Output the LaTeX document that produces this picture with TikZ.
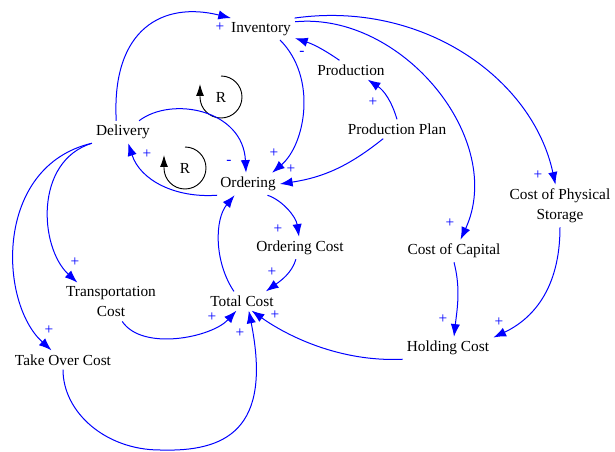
\documentclass[tikz,border=0pt]{standalone}
\usepackage{fontspec}
\setmainfont{Liberation Serif}
\newfontfamily\cldfont{Liberation Serif}
\usetikzlibrary{arrows.meta}

\begin{document}
\begin{tikzpicture}[x=0.75pt,y=0.75pt,>={Latex[length=9.5pt,width=7pt]},
  var/.style={inner sep=3pt,align=center,font=\cldfont\fontsize{11.5}{15}\selectfont},
  link/.style={->,blue,line width=0.75pt},
  pol/.style={blue,inner sep=0pt,font=\cldfont\fontsize{11.5}{13}\selectfont},
  loopmark/.style={-{Latex[length=9pt,width=6pt]},black,line width=0.7pt}]
  \useasboundingbox (0,0) rectangle (615,-452);
  % variables
  \node[var] (inv) at (261,-29) {Inventory};
  \node[var] (prod) at (351,-70) {Production};
  \node[var] (plan) at (397,-129) {Production Plan};
  \node[var] (deliv) at (123,-132) {Delivery};
  \node[var] (ord) at (248,-184) {Ordering};
  \node[var] (ocost) at (300,-248) {Ordering Cost};
  \node[var] (total) at (242,-301) {Total Cost};
  \node[var] (trans) at (111,-302) {Transportation\\Cost};
  \node[var] (takeover) at (63,-360) {Take Over Cost};
  \node[var] (capital) at (454,-251) {Cost of Capital};
  \node[var] (storage) at (560,-206) {Cost of Physical\\Storage};
  \node[var] (holding) at (448,-348) {Holding Cost};
  \coordinate (tcbottom) at (160,-450);
  % loops
  \node[var] (r1) at (221,-97) {R};
  \node[var] (r2) at (185,-168) {R};
  \draw[loopmark] ([shift={(90:21)}]r1.center) arc[start angle=90,end angle=-180,radius=21] -- ++(0,13);
  \draw[loopmark] ([shift={(90:21)}]r2.center) arc[start angle=90,end angle=-180,radius=21] -- ++(0,13);
  % links
  \draw[link] (deliv.121) .. controls +(-5,92) and +(-68,17) .. (inv.160);
  \draw[link] (inv.-30) .. controls +(38,-38) and +(33,28) .. (ord.25);
  \draw[link] (prod.140) to[bend right=8] (inv.-15);
  \draw[link] (plan.north) to[bend right=20] (prod.-30);
  \draw[link] (plan.-145) to[bend left=15] (ord.east);
  \draw[link] (ord.-160) .. controls +(-42,-3) and +(12,-37) .. (deliv.-65);
  \draw[link] (deliv.35) .. controls +(33,25) and +(-3,63) .. (ord.100);
  \draw[link] (inv.12) .. controls +(107,10) and +(46,100) .. (capital.60);
  \draw[link] (inv.18) .. controls +(127,18) and +(-23,107) .. (storage.102);
  \draw[link] (capital.south) .. controls +(7,-27) and +(3,27) .. (holding.62);
  \draw[link] (storage.south) .. controls +(0,-63) and +(38,18) .. (holding.13);
  \draw[link] (holding.south west) .. controls +(-63,-3) and +(35,-25) .. (total.-45);
  \draw[link] (takeover.south) .. controls +(0,-43) and +(-54,0) .. (tcbottom)
    .. controls +(65,-2) and +(24,-120) .. (total.-55);
  \draw[link] (trans.-60) .. controls +(20,-30) and +(-25,-27) .. (total.-120);
  \draw[link] (total.130) .. controls +(-20,30) and +(-20,-24) .. (ord.-140);
  \draw[link] (ord.-30) .. controls +(15,-5) and +(-3,20) .. (ocost.95);
  \draw[link] (ocost.-110) .. controls +(-4,-14) and +(14,10) .. (total.22);
  \draw[link] (deliv.south west) .. controls +(-58,-18) and +(-38,35) .. (trans.150);
  \draw[link] (deliv.south west) .. controls +(-98,-23) and +(-53,48) .. (takeover.140);
  % polarities
  \node[pol] (p1) at (220,-27) {+};
  \node[pol] (p2) at (302,-53) {-};
  \node[pol] (p3) at (274,-153) {+};
  \node[pol] (p4) at (291,-169) {+};
  \node[pol] (p5) at (373,-102) {+};
  \node[pol] (p6) at (147,-154) {+};
  \node[pol] (p7) at (229,-162) {-};
  \node[pol] (p8) at (538,-175) {+};
  \node[pol] (p9) at (450,-223) {+};
  \node[pol] (p10) at (443,-319) {+};
  \node[pol] (p11) at (499,-322) {+};
  \node[pol] (p12) at (275,-315) {+};
  \node[pol] (p13) at (240,-333) {+};
  \node[pol] (p14) at (212,-317) {+};
  \node[pol] (p15) at (278,-229) {+};
  \node[pol] (p16) at (272,-272) {+};
  \node[pol] (p17) at (75,-262) {+};
  \node[pol] (p18) at (49,-330) {+};
\end{tikzpicture}
\end{document}
